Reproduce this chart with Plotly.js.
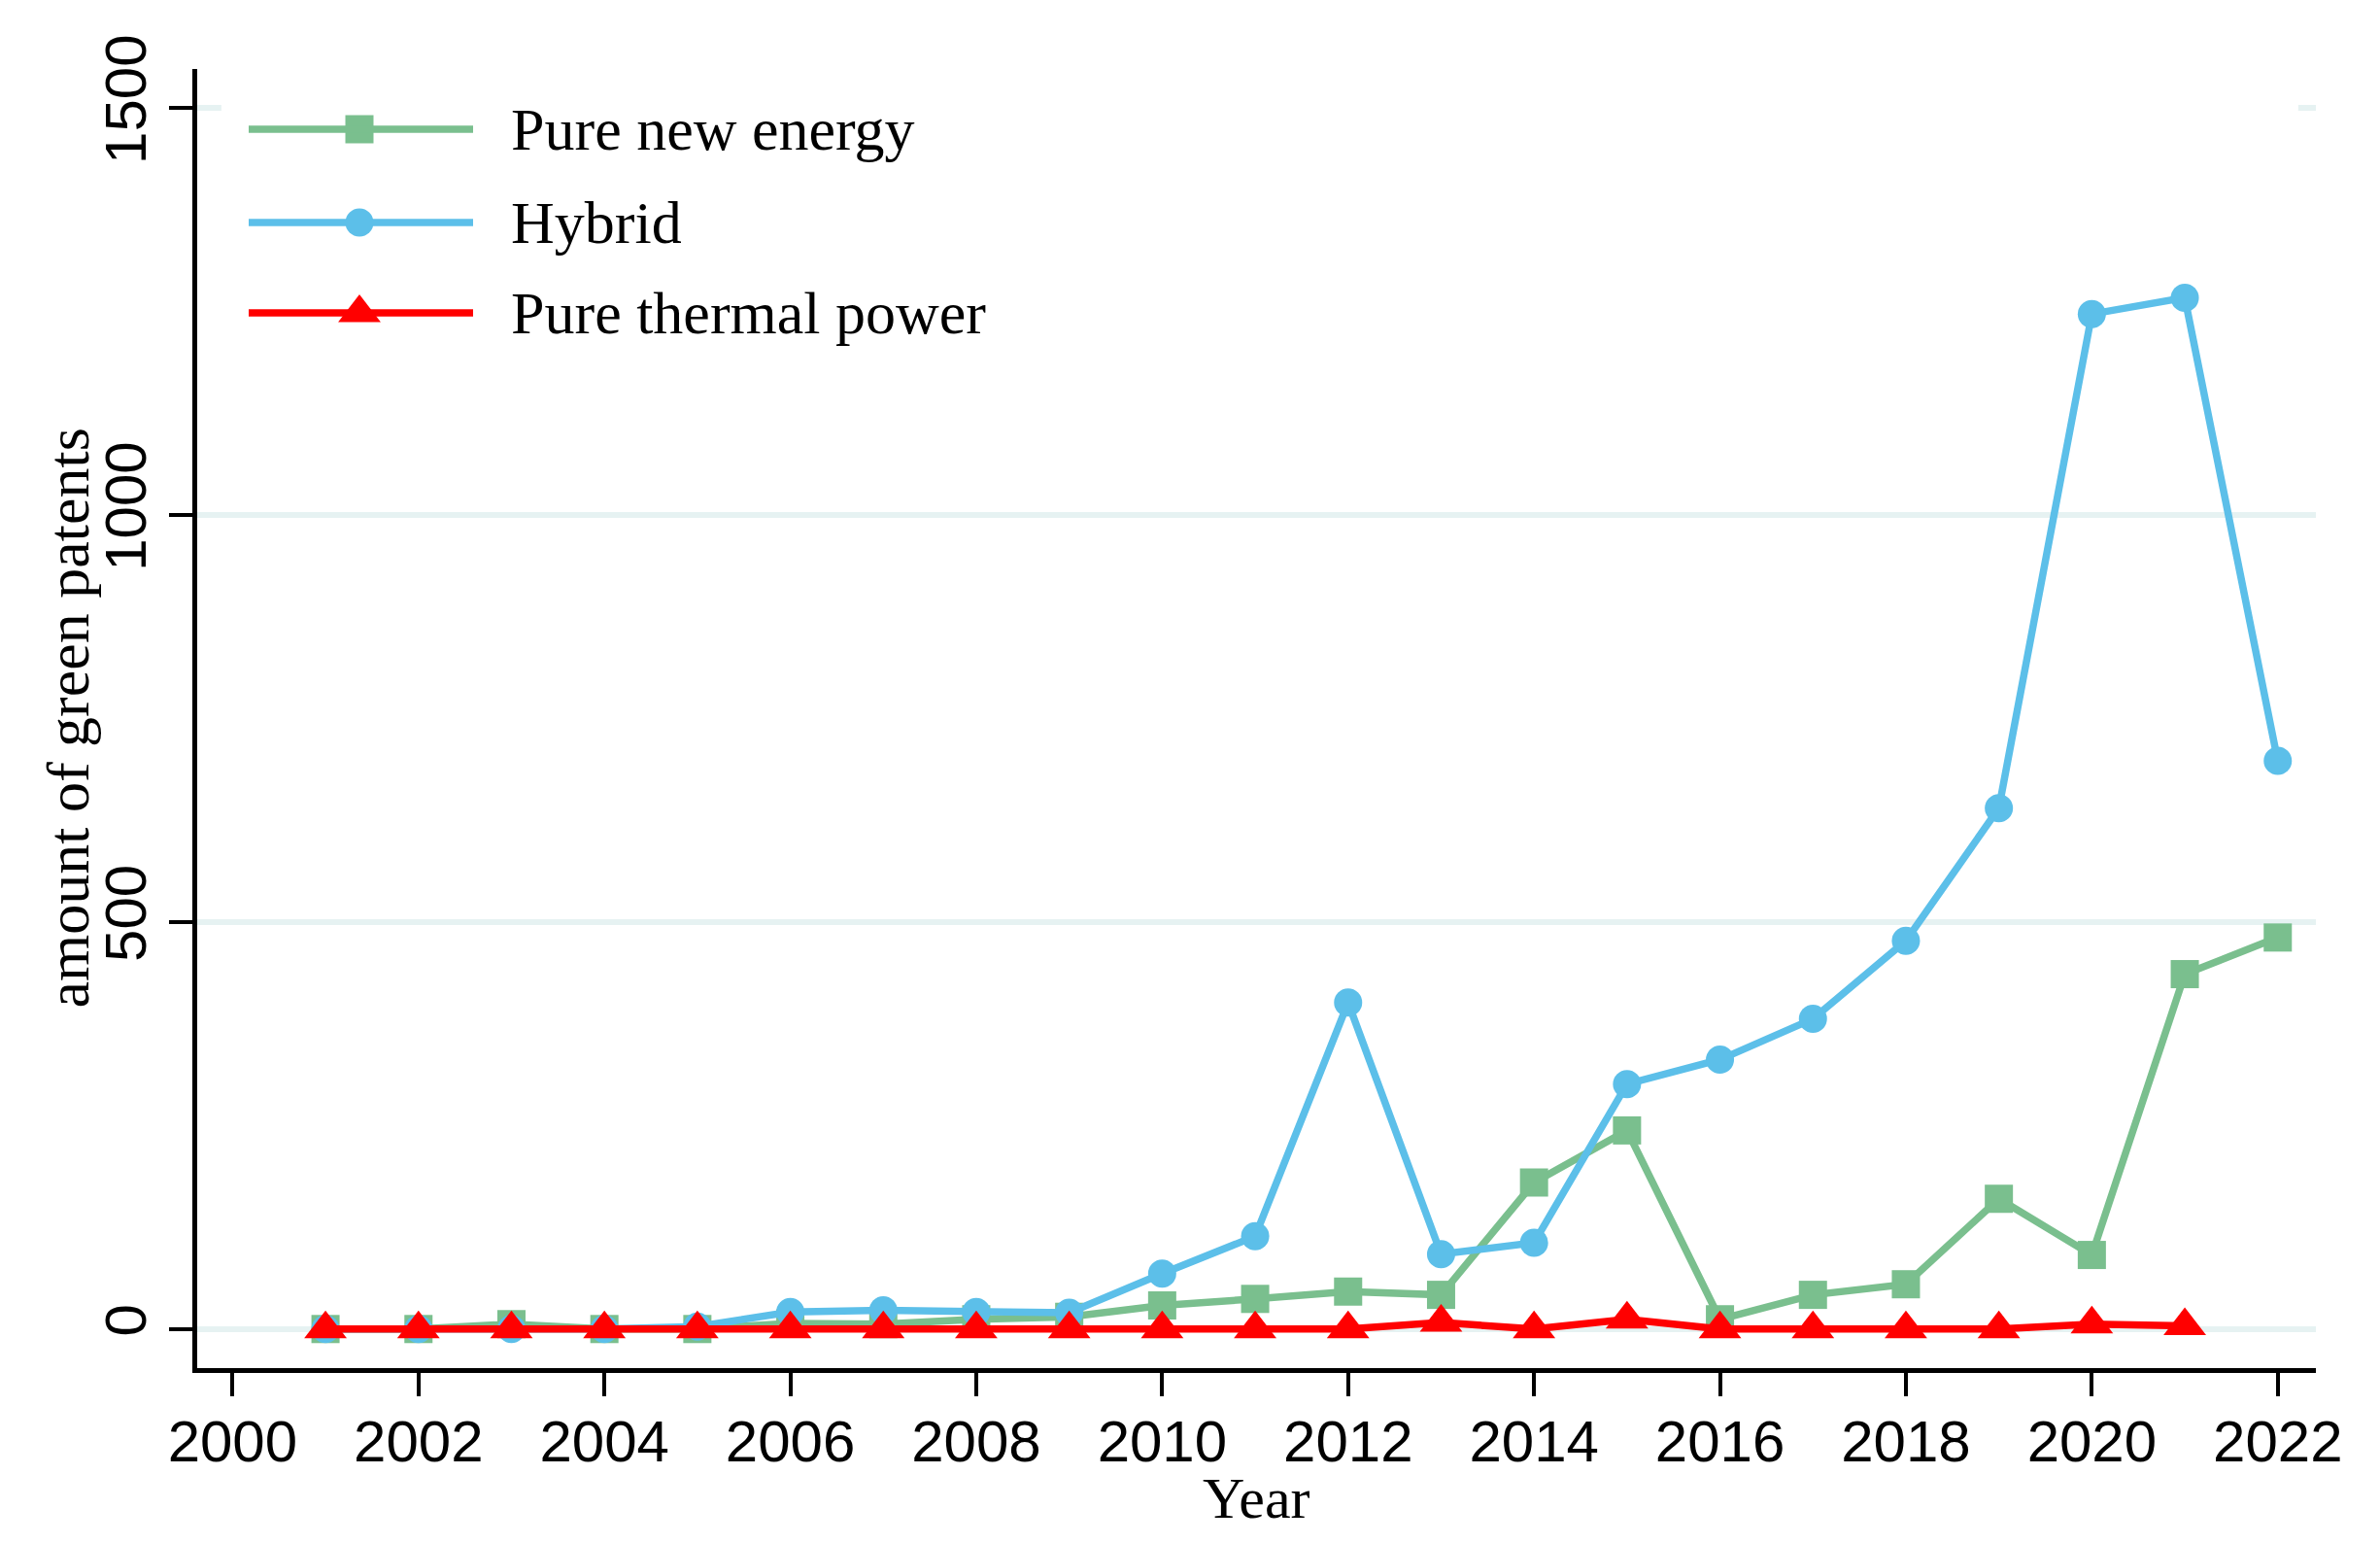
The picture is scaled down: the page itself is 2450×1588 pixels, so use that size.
<!DOCTYPE html>
<html>
<head>
<meta charset="utf-8">
<script src="https://cdn.plot.ly/plotly-3.0.1.min.js"></script>
<style>
  html, body { margin: 0; padding: 0; background: #ffffff; }
  #chart { width: 2450px; height: 1588px; }
</style>
</head>
<body>
<div id="chart"></div>
<script>
// ---- data ----
const years = [2001, 2002, 2003, 2004, 2005, 2006, 2007, 2008, 2009, 2010, 2011,
               2012, 2013, 2014, 2015, 2016, 2017, 2018, 2019, 2020, 2021, 2022];
const pureNewEnergy = [0, 0, 6, 0, 0, 7, 6, 12, 15, 29, 37,
                       46, 42, 180, 244, 12, 42, 55, 160, 91, 436, 481];
const hybrid = [0, 0, 0, 0, 3, 21, 23, 21, 20, 68, 114,
                401, 92, 106, 301, 331, 381, 477, 640, 1247, 1267, 698];
const pureThermal = [0, 0, 0, 0, 0, 0, 0, 0, 0, 0, 0,
                     0, 8, 0, 12, 0, 0, 0, 0, 6, 4, null];

const seriesNames = ["Pure new energy", "Hybrid", "Pure thermal power"];
const yTicks = [0, 500, 1000, 1500];
const xTicks = [2000, 2002, 2004, 2006, 2008, 2010, 2012, 2014, 2016, 2018, 2020, 2022];
const xTitle = "Year";
const yTitle = "amount of green patents";

// ---- styles ----
const GREEN = "#7abf8e";
const BLUE = "#5cbfe9";
const RED = "#ff0000";
const GRID = "#e6f2f2";
const SERIF = "Liberation Serif, Times New Roman, serif";
const SANS = "Liberation Sans, Arial, sans-serif";
const LW = 7.5;

const styles = [
  { color: GREEN, symbol: "square", size: 29 },
  { color: BLUE, symbol: "circle", size: 29 },
  { color: RED, symbol: "triangle-up", size: 38 }
];
const seriesData = [pureNewEnergy, hybrid, pureThermal];

const traces = seriesData.map((vals, i) => ({
  type: "scatter",
  mode: "lines+markers",
  name: seriesNames[i],
  x: years,
  y: vals,
  line: { color: styles[i].color, width: LW },
  marker: { color: styles[i].color, symbol: styles[i].symbol, size: styles[i].size },
  showlegend: false,
  connectgaps: false,
  cliponaxis: false
}));

// ---- hand-built legend (long sample lines, like the original) on a pixel overlay axis ----
const legendRows = [133, 229, 322];   // pixel rows
const legX0 = 256, legX1 = 487, legMark = 370, legText = 524;

styles.forEach((s, i) => {
  traces.push({
    type: "scatter", mode: "markers", xaxis: "x2", yaxis: "y2",
    x: [legMark], y: [legendRows[i]],
    marker: { color: s.color, symbol: s.symbol, size: s.size },
    showlegend: false, hoverinfo: "skip", cliponaxis: false
  });
});

const shapes = [
  // white legend box hiding the top gridline (as in the original)
  { type: "rect", xref: "x", yref: "y", x0: 1999.88, x1: 2022.22, y0: 1491, y1: 1510,
    fillcolor: "#ffffff", line: { width: 0 }, layer: "between" }
];
styles.forEach((s, i) => {
  shapes.push({ type: "line", xref: "x2", yref: "y2",
    x0: legX0, x1: legX1, y0: legendRows[i], y1: legendRows[i],
    line: { color: s.color, width: LW }, layer: "above" });
});

const annotations = seriesNames.map((n, i) => ({
  xref: "x2", yref: "y2", x: legText, y: legendRows[i],
  xanchor: "left", yanchor: "middle", text: n, showarrow: false,
  font: { family: SERIF, size: 62, color: "#000000" }
}));

// axis titles
annotations.push({
  xref: "paper", yref: "paper", x: 0.5, y: 0, yshift: -134,
  xanchor: "center", yanchor: "middle", text: xTitle, showarrow: false,
  font: { family: SERIF, size: 60, color: "#000000" }
});
annotations.push({
  xref: "paper", yref: "paper", x: 0, y: 0.5, xshift: -134,
  xanchor: "center", yanchor: "middle", textangle: -90, text: yTitle, showarrow: false,
  font: { family: SERIF, size: 62, color: "#000000" }
});

const layout = {
  width: 2450, height: 1588,
  margin: { l: 203, r: 66, t: 71, b: 180, pad: 0 },
  paper_bgcolor: "#ffffff",
  plot_bgcolor: "#ffffff",
  showlegend: false,
  xaxis: {
    range: [1999.62, 2022.41],
    tickmode: "array", tickvals: xTicks, ticktext: xTicks.map(String),
    ticks: "outside", ticklen: 24, tickwidth: 4, tickcolor: "#000000",
    ticklabelstandoff: -5,
    showline: true, linecolor: "#000000", linewidth: 5,
    showgrid: false, zeroline: false,
    tickfont: { family: SANS, size: 60, color: "#000000" },
    automargin: false
  },
  yaxis: {
    range: [-48, 1548],
    tickmode: "array", tickvals: yTicks, ticktext: yTicks.map(String),
    tickangle: -90,
    ticks: "outside", ticklen: 24, tickwidth: 4, tickcolor: "#000000",
    showline: true, linecolor: "#000000", linewidth: 5,
    showgrid: true, gridcolor: GRID, gridwidth: 6.5,
    zeroline: false,
    tickfont: { family: SANS, size: 60, color: "#000000" },
    automargin: false
  },
  xaxis2: { overlaying: "x", anchor: "y2", range: [203, 2384], visible: false, fixedrange: true },
  yaxis2: { overlaying: "y", anchor: "x2", range: [1408, 71], visible: false, fixedrange: true },
  shapes: shapes,
  annotations: annotations
};

Plotly.newPlot("chart", traces, layout, { displayModeBar: false, staticPlot: true });
</script>
</body>
</html>
